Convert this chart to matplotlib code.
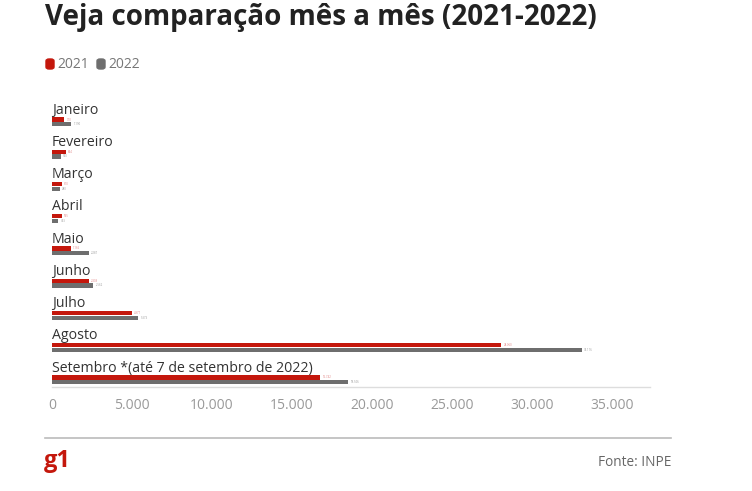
import matplotlib
matplotlib.use("Agg")
import matplotlib.pyplot as plt
from matplotlib.patches import FancyBboxPatch
from matplotlib.lines import Line2D

plt.rcParams["font.family"] = ["Open Sans", "DejaVu Sans"]

# ── data ──────────────────────────────────────────────
months = ["Janeiro", "Fevereiro", "Março", "Abril", "Maio", "Junho",
          "Julho", "Agosto", "Setembro *(até 7 de setembro de 2022)"]
vals_2021 = [770, 854, 610, 595, 1166, 2308, 4977, 28060, 16742]
vals_2022 = [1190, 540, 480, 393, 2287, 2562, 5373, 33116, 18506]
xticks = [0, 5000, 10000, 15000, 20000, 25000, 30000, 35000]

RED = "#c4170c"
GRAY = "#6e6e6e"
TEXT = "#333333"


def fmt(v):
    return f"{v:,.0f}".replace(",", ".")


W, H = 752, 491
fig = plt.figure(figsize=(W / 100, H / 100), dpi=100)

# axes: pixels x 52..650, y 100..387
ax = fig.add_axes([52 / W, 1 - 387 / H, (650 - 52) / W, (387 - 100) / H])
ax.set_xlim(0, (650 - 52) * 62.5)
ax.set_ylim(8.295, -0.605)

bh = 0.13
for i, (m, a, b) in enumerate(zip(months, vals_2021, vals_2022)):
    ax.barh(i, a, height=bh, color=RED)
    ax.barh(i + 0.145, b, height=bh, color=GRAY)
    ax.text(0, i - 0.29, m, fontsize=10.2, color=TEXT, va="center", ha="left")
    ax.text(a + 150, i, fmt(a), fontsize=2, color="#e08080", va="center")
    ax.text(b + 150, i + 0.145, fmt(b), fontsize=2, color="#999999", va="center")

ax.set_xticks(xticks)
ax.set_xticklabels([fmt(t) for t in xticks], fontsize=10, color="#999999")
ax.tick_params(axis="x", length=0, pad=8)
ax.set_yticks([])
for s in ["top", "right", "left"]:
    ax.spines[s].set_visible(False)
ax.spines["bottom"].set_color("#dddddd")
ax.spines["bottom"].set_linewidth(1)

# title
fig.text(45 / W, 1 - 18 / H, "Veja comparação mês a mês (2021-2022)",
         fontsize=20, fontweight="bold", color="#222222", va="center", ha="left")

# legend
for x0, c, lab in [(46, RED, "2021"), (97, GRAY, "2022")]:
    fig.patches.append(FancyBboxPatch(((x0) / W, 1 - 69 / H), 8 / W, 10 / H,
                                      boxstyle="round,pad=0,rounding_size=0.004",
                                      transform=fig.transFigure, color=c))
    fig.text((x0 + 11) / W, 1 - 64 / H, lab, fontsize=10, color="#777777",
             va="center", ha="left")

# footer
fig.add_artist(Line2D([45 / W, 671 / W], [1 - 438 / H, 1 - 438 / H],
                      transform=fig.transFigure, color="#bbbbbb", lw=1.2))
fig.text(44 / W, 1 - 461 / H, "g1", fontsize=17, fontweight="bold",
         color=RED, va="center", ha="left")
fig.text(671 / W, 1 - 463 / H, "Fonte: INPE", fontsize=9.8, color="#666666",
         va="center", ha="right")

fig.savefig("out.png", dpi=100)
